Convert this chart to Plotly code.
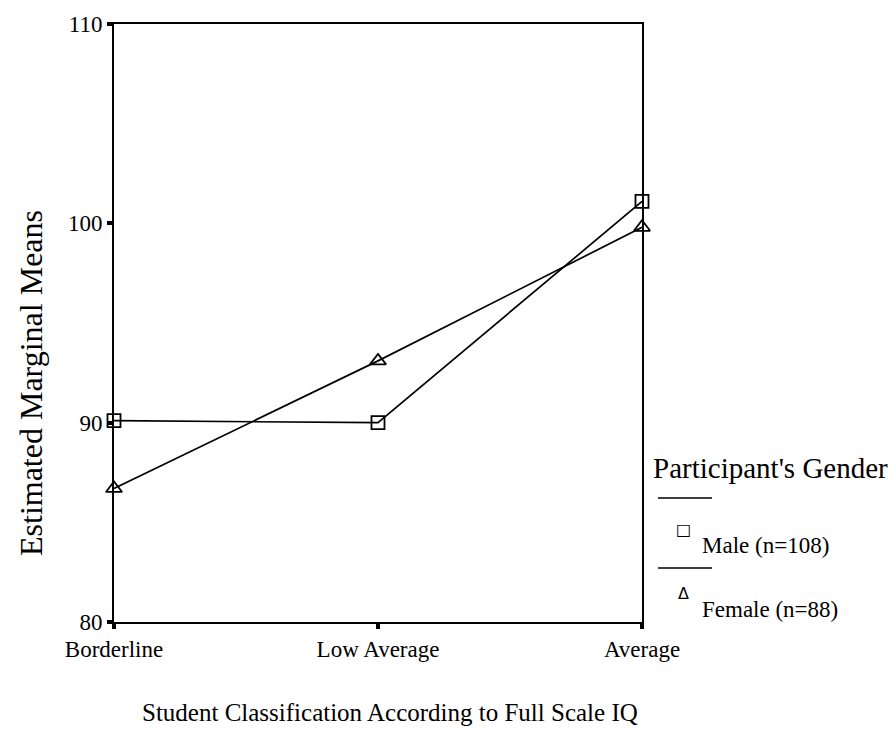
import plotly.graph_objects as go

categories = ["Borderline", "Low Average", "Average"]
male_means = [90.1, 90.0, 101.1]
female_means = [86.7, 93.1, 99.8]
y_ticks = [80, 90, 100, 110]
series_names = ["Male (n=108)", "Female (n=88)"]
legend_title = "Participant's Gender"
x_title = "Student Classification According to Full Scale IQ"
y_title = "Estimated Marginal Means"

FONT = "Liberation Serif, Times New Roman, serif"
L, T, PW, PH = 114, 24, 528, 598

fig = go.Figure()
fig.add_trace(go.Scatter(
    x=categories, y=male_means, mode="lines+markers", name=series_names[0],
    line=dict(color="black", width=1.7),
    marker=dict(symbol="square-open", size=13, color="black", line=dict(width=1.8)),
    cliponaxis=False, showlegend=False))
fig.add_trace(go.Scatter(
    x=categories, y=female_means, mode="lines+markers", name=series_names[1],
    line=dict(color="black", width=1.7),
    marker=dict(symbol="triangle-up-open", size=14, color="black", line=dict(width=1.8)),
    cliponaxis=False, showlegend=False))

def px_to_paper(px, py):
    return (px - L) / PW, (T + PH - py) / PH

annotations = []
xp, yp = px_to_paper(31, 383)
annotations.append(dict(text=y_title, x=xp, y=yp, xref="paper", yref="paper",
                        textangle=-90, showarrow=False, xanchor="center", yanchor="middle",
                        font=dict(family=FONT, size=32, color="black")))
xp, yp = px_to_paper(390, 712)
annotations.append(dict(text=x_title, x=xp, y=yp, xref="paper", yref="paper",
                        showarrow=False, xanchor="center", yanchor="middle",
                        font=dict(family=FONT, size=25, color="black")))
xp, yp = px_to_paper(651, 468)
annotations.append(dict(text=legend_title, x=xp, y=yp, xref="paper", yref="paper",
                        showarrow=False, xanchor="left", yanchor="middle",
                        font=dict(family=FONT, size=29, color="black")))
for name, sym, ysym, ytxt in [(series_names[0], "□", 529, 545), (series_names[1], "Δ", 593, 609)]:
    xp, yp = px_to_paper(683, ysym)
    annotations.append(dict(text=sym, x=xp, y=yp, xref="paper", yref="paper",
                            showarrow=False, xanchor="center", yanchor="middle",
                            font=dict(family="DejaVu Sans", size=16, color="black")))
    xp, yp = px_to_paper(700, ytxt)
    annotations.append(dict(text=name, x=xp, y=yp, xref="paper", yref="paper",
                            showarrow=False, xanchor="left", yanchor="middle",
                            font=dict(family=FONT, size=23, color="black")))

shapes = []
for ly in [498, 568]:
    x0, y0 = px_to_paper(658, ly)
    x1, _ = px_to_paper(712, ly)
    shapes.append(dict(type="line", xref="paper", yref="paper", x0=x0, x1=x1, y0=y0, y1=y0,
                       line=dict(color="black", width=1.5)))

fig.update_layout(
    width=893, height=732,
    margin=dict(l=L, r=893 - L - PW, t=T, b=732 - T - PH),
    paper_bgcolor="white", plot_bgcolor="white",
    font=dict(family=FONT, color="black"),
    annotations=annotations, shapes=shapes,
    xaxis=dict(type="category", range=[0, 2], showgrid=False, zeroline=False,
               showline=True, linecolor="black", linewidth=2, mirror=True,
               ticks="outside", ticklen=5, tickwidth=4, tickcolor="black",
               tickfont=dict(family=FONT, size=23, color="black")),
    yaxis=dict(range=[80, 110], tickvals=y_ticks, showgrid=False, zeroline=False,
               showline=True, linecolor="black", linewidth=2, mirror=True,
               ticks="outside", ticklen=5, tickwidth=4, tickcolor="black",
               tickfont=dict(family=FONT, size=23, color="black")),
)
fig.write_html("out.html")
